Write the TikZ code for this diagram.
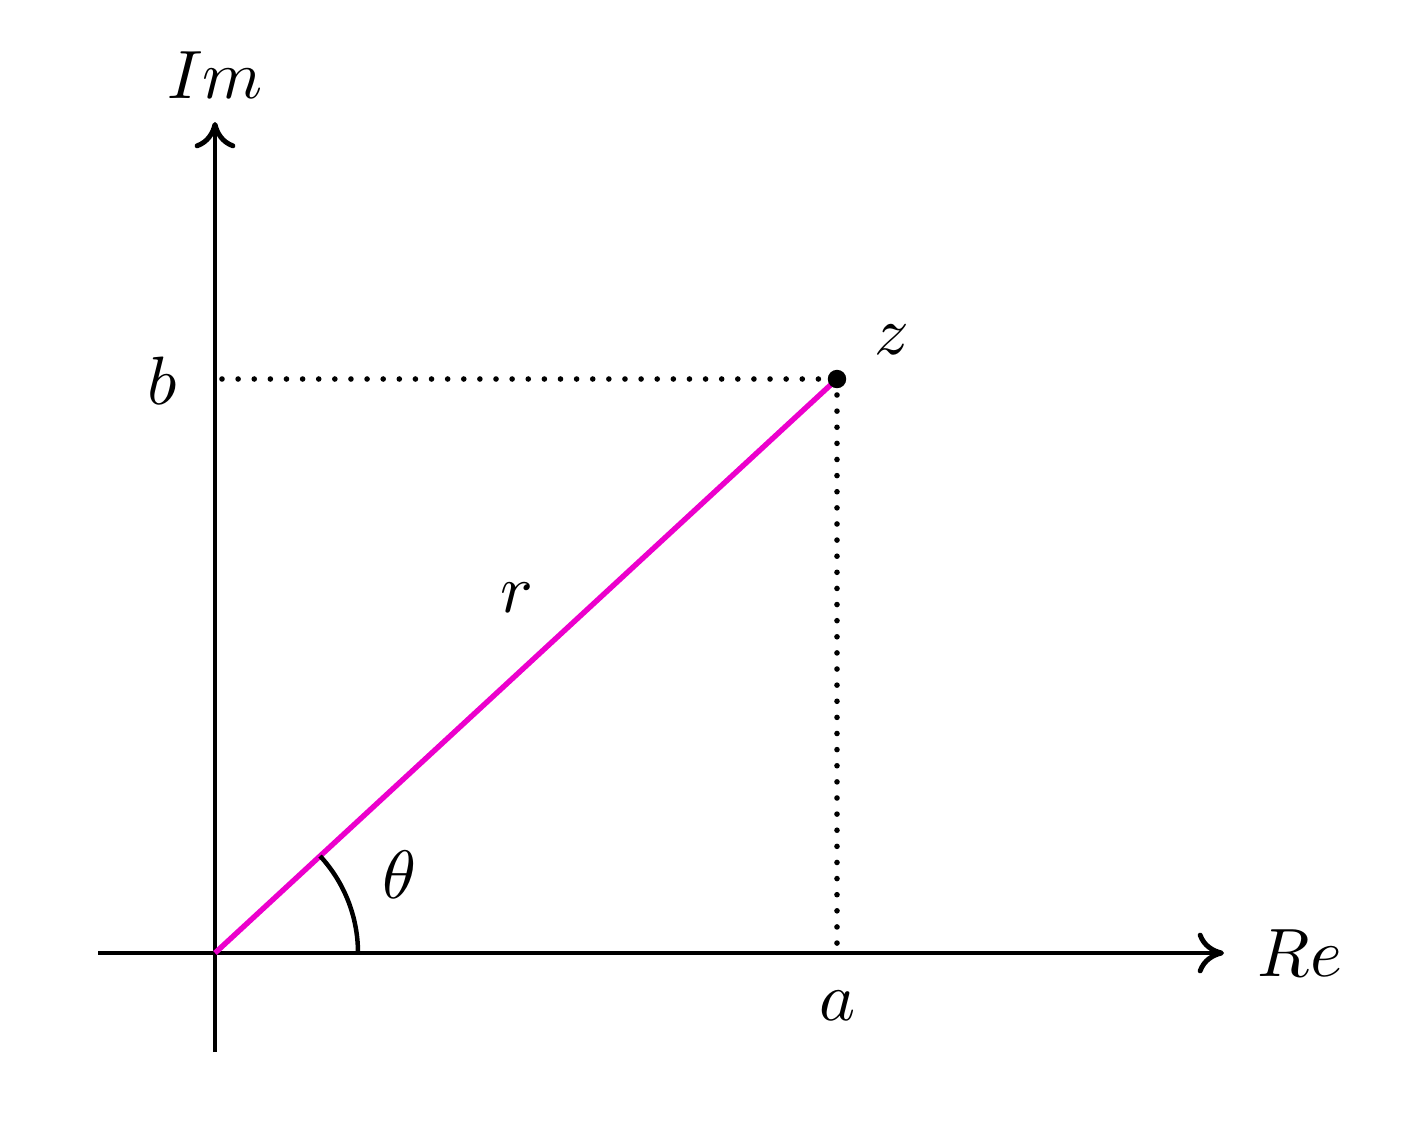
\documentclass[tikz,border=0pt]{standalone}
\usetikzlibrary{arrows.meta}
\begin{document}
\begin{tikzpicture}[x=0.152pt,y=-0.152pt,
  axis/.style={line width=0.68pt,-{To[length=4pt,width=6.2pt,line width=0.75pt]}},
  dotline/.style={line width=0.85pt,line cap=round,dash pattern=on 0pt off 2.45pt},
  lbl/.style={inner sep=0pt,scale=1.04}]
\useasboundingbox (0,0) rectangle (1402,1122);
\coordinate (O) at (215,953);
\coordinate (xl) at (98,953);
\coordinate (xr) at (1224,953);
\coordinate (yb) at (215,1052);
\coordinate (yt) at (215,122);
\coordinate (A) at (837,953);
\coordinate (B) at (222,379);
\draw[axis] (xl) -- (xr);
\draw[axis] (yb) -- (yt);
\draw[dotline] (B) -- (837,379);
\draw[dotline] (837,395) -- (A);
\draw[line width=0.82pt,color={rgb,255:red,236;green,0;blue,204}] (O) -- (837,379) coordinate (Z);
\fill (Z) circle[radius=1.4pt];
\draw[line width=0.68pt] (358,953) arc[start angle=0,end angle=-42.7,radius=143];
\node[lbl] (im) at (215,75) {$Im$};
\node[lbl] (re) at (1300,953) {$Re$};
\node[lbl] (b) at (162,381) {$b$};
\node[lbl] (a) at (838,1006) {$a$};
\node[lbl] (z) at (892,340) {$z$};
\node[lbl] (r) at (517,598) {$r$};
\node[lbl] (th) at (400,875) {$\theta$};
\end{tikzpicture}
\end{document}
